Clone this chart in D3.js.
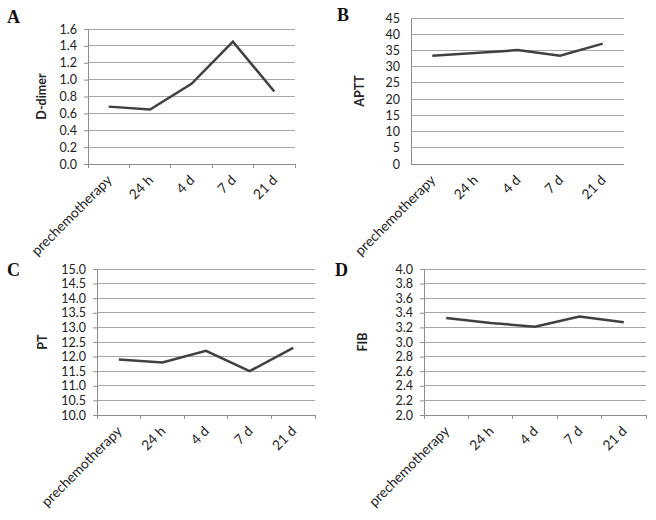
<!DOCTYPE html>
<html><head><meta charset="utf-8">
<script src="https://cdn.jsdelivr.net/npm/d3@7"></script>
<style>body{margin:0;background:#fff}</style>
</head><body>
<script>
const categories = ["prechemotherapy", "24 h", "4 d", "7 d", "21 d"];
const ddimer = [0.68, 0.645, 0.95, 1.45, 0.86];
const aptt = [33.4, 34.2, 35.1, 33.4, 37.1];
const pt = [11.9, 11.8, 12.2, 11.5, 12.3];
const fib = [3.33, 3.26, 3.21, 3.35, 3.27];
const ddimerTicks = [0, 0.2, 0.4, 0.6, 0.8, 1.0, 1.2, 1.4, 1.6];
const apttTicks = [0, 5, 10, 15, 20, 25, 30, 35, 40, 45];
const ptTicks = [10, 10.5, 11, 11.5, 12, 12.5, 13, 13.5, 14, 14.5, 15];
const fibTicks = [2.0, 2.2, 2.4, 2.6, 2.8, 3.0, 3.2, 3.4, 3.6, 3.8, 4.0];

const panels = [
  {letter:"A", title:"D-dimer", values:ddimer, ticks:ddimerTicks, fmt:d3.format(".1f"),
   left:88, right:295, top:29, bottom:164, lx:7, ly:23, tx:42, showTicks:true},
  {letter:"B", title:"APTT", values:aptt, ticks:apttTicks, fmt:d3.format("d"),
   left:411, right:624, top:18, bottom:164, lx:337, ly:21, tx:360, showTicks:false},
  {letter:"C", title:"PT", values:pt, ticks:ptTicks, fmt:d3.format(".1f"),
   left:97, right:315, top:269, bottom:415, lx:7, ly:276, tx:43, showTicks:true},
  {letter:"D", title:"FIB", values:fib, ticks:fibTicks, fmt:d3.format(".1f"),
   left:424, right:646, top:269, bottom:415, lx:335, ly:276, tx:363, showTicks:true}
];

const svg = d3.select("body").append("svg").attr("width",656).attr("height",520);
const font = "Lato, 'Open Sans', sans-serif";

panels.forEach(p => {
  const x = d3.scaleBand().domain(categories).range([p.left, p.right]);
  const y = d3.scaleLinear().domain([p.ticks[0], p.ticks[p.ticks.length-1]]).range([p.bottom, p.top]);
  const g = svg.append("g");

  // gridlines
  g.selectAll("line.grid").data(p.ticks.slice(1)).enter().append("line")
    .attr("x1", p.left).attr("x2", p.right)
    .attr("y1", d => y(d)).attr("y2", d => y(d))
    .attr("stroke", "#a6a6a6").attr("stroke-width", 1).attr("shape-rendering","crispEdges");

  // y axis
  const yAxis = d3.axisLeft(y).tickValues(p.ticks).tickFormat(p.fmt)
    .tickSize(p.showTicks ? 4 : 0).tickPadding(p.showTicks ? 7 : 11);
  const ya = g.append("g").attr("transform", `translate(${p.left},0)`).call(yAxis);
  ya.select(".domain").attr("stroke", "#8c8c8c");
  ya.selectAll(".tick line").attr("stroke", "#8c8c8c");
  ya.selectAll("text").attr("font-family", font).attr("font-size", 12.5).attr("fill", "#222");

  // x axis
  const tickEdges = d3.range(categories.length+1).map(i => p.left + i*x.step());
  g.append("line").attr("x1", p.left).attr("x2", p.right).attr("y1", p.bottom).attr("y2", p.bottom)
    .attr("stroke", "#8c8c8c").attr("shape-rendering","crispEdges");
  if (p.showTicks) {
    g.selectAll("line.xt").data(tickEdges).enter().append("line")
      .attr("x1", d => d).attr("x2", d => d).attr("y1", p.bottom).attr("y2", p.bottom+4)
      .attr("stroke", "#8c8c8c").attr("shape-rendering","crispEdges");
  }
  g.selectAll("text.xl").data(categories).enter().append("text")
    .attr("transform", d => `translate(${x(d)+x.bandwidth()/2+4},${p.bottom+17}) rotate(-45)`)
    .attr("text-anchor", "end").attr("font-family", font).attr("font-size", 13.8).attr("fill", "#222")
    .text(d => d);

  // line
  const line = d3.line().x((d,i) => x(categories[i]) + x.bandwidth()/2).y(d => y(d));
  g.append("path").datum(p.values).attr("d", line).attr("fill", "none")
    .attr("stroke", "#404040").attr("stroke-width", 2.5).attr("stroke-linejoin","miter");

  // y title
  g.append("text").attr("transform", `translate(${p.tx},${(p.top+p.bottom)/2}) rotate(-90)`)
    .attr("text-anchor","middle").attr("dy","0.35em").attr("font-family", font).attr("font-weight","bold")
    .attr("font-size", 12.5).attr("fill","#222").text(p.title);

  // panel letter
  g.append("text").attr("x", p.lx).attr("y", p.ly).attr("font-family","'Liberation Serif', 'Times New Roman', serif")
    .attr("font-weight","bold").attr("font-size", 18).attr("fill","#111").text(p.letter);
});
</script>
</body></html>
